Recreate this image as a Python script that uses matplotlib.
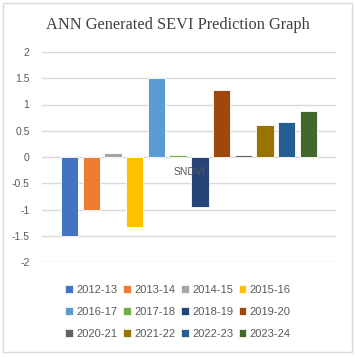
import numpy as np
import matplotlib.pyplot as plt
from matplotlib.patches import Rectangle, Patch

seasons = ['2012-13', '2013-14', '2014-15', '2015-16', '2016-17', '2017-18',
           '2018-19', '2019-20', '2020-21', '2021-22', '2022-23', '2023-24']
sndvi = [-1.5, -1.01, 0.08, -1.33, 1.5, 0.03, -0.95, 1.28, 0.03, 0.61, 0.66, 0.87]
colors = ['#4472C4', '#ED7D31', '#A5A5A5', '#FFC000', '#5B9BD5', '#70AD47',
          '#264478', '#9E480E', '#636363', '#997300', '#255E91', '#43682B']
category = 'SNDVI'
yticks = [-2, -1.5, -1, -0.5, 0, 0.5, 1, 1.5, 2]

grey = '#595959'
plt.rcParams['font.family'] = ['Liberation Sans', 'DejaVu Sans']

fig = plt.figure(figsize=(3.55, 3.57), dpi=100)
fig.patches.append(Rectangle((3/355, 5/357), 349/355, 349/357, transform=fig.transFigure,
                             fill=False, edgecolor='#D9D9D9', linewidth=1))
ax = fig.add_axes([42/355, 1 - 262/357, 294/355, 210/357])

x = np.arange(len(seasons))
ax.bar(x, sndvi, width=0.8, color=colors, edgecolor='white', linewidth=0.6, zorder=2)

ax.set_ylim(-2, 2)
ax.set_xlim(-1.27, 12.27)
ax.set_yticks(yticks)
ax.set_yticklabels([('%g' % v) for v in yticks], color=grey, fontsize=7.5)
ax.tick_params(axis='y', length=0, pad=9)
ax.set_xticks([])
ax.grid(axis='y', color='#D9D9D9', linewidth=1, zorder=0)
ax.set_axisbelow(True)
for s in ax.spines.values():
    s.set_visible(False)

ax.annotate(category, xy=((len(seasons) - 1) / 2, 0), xytext=(0, -11),
            textcoords='offset points', ha='center', va='center',
            color=grey, fontsize=7.5, zorder=5)

fig.text(0.5, 1 - 25/357, 'ANN Generated SEVI Prediction Graph', ha='center', va='center',
         fontsize=11.8, color='#404040', family=['Liberation Serif'])

# legend fills column by column, so reorder to read row by row like the original
ncol = 4
nrow = 3
handles = [Patch(facecolor=c, edgecolor='white', linewidth=0.5) for c in colors]
order = [r * ncol + c for c in range(ncol) for r in range(nrow)]
fig.legend([handles[i] for i in order], [seasons[i] for i in order],
           loc='center', bbox_to_anchor=(178/355, 1 - 312/357), ncol=ncol,
           frameon=False, fontsize=8, labelcolor=grey, handlelength=0.7, handleheight=0.7,
           handletextpad=0.3, columnspacing=0.5, labelspacing=1.1)

fig.savefig('out.png', dpi=100)
